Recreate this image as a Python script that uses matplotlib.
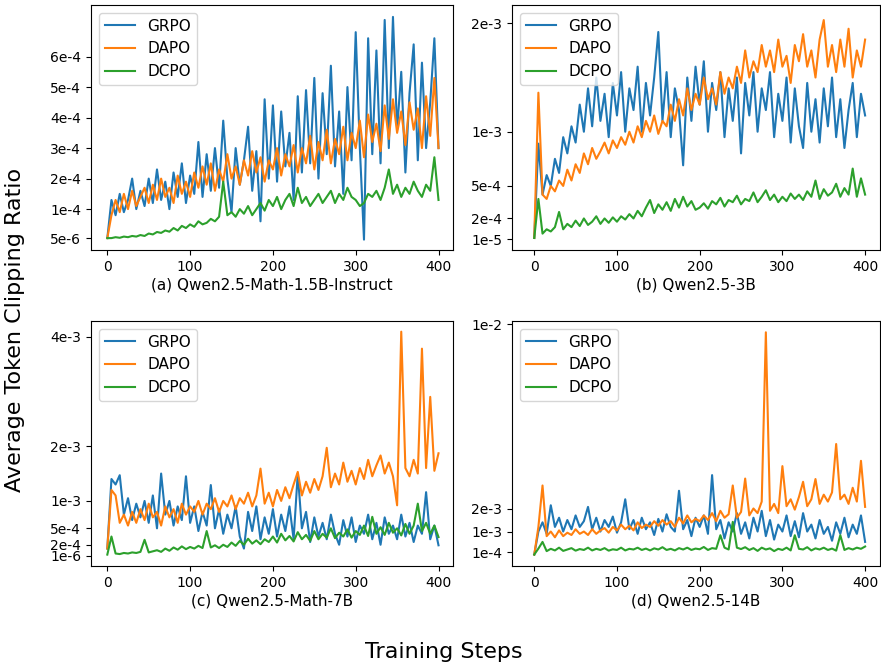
import numpy as np
import matplotlib
matplotlib.use("Agg")
import matplotlib.pyplot as plt

# training steps sampled every 5 steps
steps = np.arange(0, 401, 5)
methods = ["GRPO", "DAPO", "DCPO"]
colors = ["#1f77b4", "#ff7f0e", "#2ca02c"]

# (a) Qwen2.5-Math-1.5B-Instruct, values in units of 1e-4
a_grpo = [0.05, 1.3, 0.8, 1.5, 0.9, 1.3, 2.0, 1.0, 1.6, 1.1, 2.0, 1.2, 2.3, 1.3, 1.9, 1.0,
          2.2, 1.4, 2.5, 1.2, 2.1, 1.5, 3.2, 1.4, 2.8, 1.6, 3.0, 1.7, 3.9, 2.0, 0.9, 3.0,
          1.8, 2.6, 3.7, 1.6, 2.9, 0.6, 4.6, 2.0, 4.4, 1.9, 4.2, 2.4, 3.5, 1.3, 4.7, 2.2,
          4.9, 2.5, 5.3, 2.0, 4.8, 2.8, 5.7, 2.4, 4.2, 1.5, 5.0, 2.6, 6.8, 3.0, 0.0, 6.6,
          2.8, 6.2, 2.5, 7.2, 3.0, 7.3, 3.6, 5.5, 2.2, 4.8, 6.4, 2.6, 5.8, 3.0, 4.5, 6.6, 3.0]
a_dapo = [0.05, 0.8, 1.3, 0.9, 1.5, 1.0, 1.6, 1.1, 1.4, 1.7, 1.2, 1.8, 1.3, 2.0, 1.4, 1.7,
          1.2, 2.1, 1.5, 1.9, 1.4, 2.2, 1.7, 2.4, 1.8, 2.5, 1.6, 2.3, 1.9, 2.8, 2.0, 2.4,
          1.8, 2.6, 2.1, 2.9, 2.2, 2.7, 1.9, 2.6, 2.3, 3.0, 2.1, 2.8, 2.4, 3.1, 2.2, 3.0,
          2.5, 3.4, 2.3, 3.2, 2.6, 3.6, 2.5, 3.3, 2.8, 3.7, 2.6, 3.5, 3.0, 3.9, 2.7, 4.1,
          3.2, 3.8, 2.9, 4.4, 3.3, 4.6, 3.5, 4.2, 3.1, 4.5, 3.6, 4.3, 3.0, 4.7, 3.4, 5.3, 3.0]
a_dcpo = [0.05, 0.05, 0.08, 0.06, 0.1, 0.08, 0.12, 0.1, 0.15, 0.12, 0.2, 0.17, 0.25, 0.22,
          0.3, 0.26, 0.38, 0.3, 0.45, 0.38, 0.5, 0.42, 0.6, 0.5, 0.55, 0.68, 0.6, 0.75, 1.9,
          0.8, 0.9, 0.75, 1.0, 0.85, 1.1, 0.8, 1.0, 1.2, 0.95, 1.3, 1.1, 1.4, 1.0, 1.3, 1.5,
          1.1, 1.7, 1.2, 1.4, 1.1, 1.3, 1.5, 1.2, 1.4, 1.6, 1.2, 1.5, 1.3, 1.7, 1.4, 1.3,
          1.1, 1.2, 1.5, 1.4, 1.6, 1.3, 1.7, 2.3, 1.5, 1.8, 1.4, 1.7, 1.5, 1.9, 1.6, 1.4,
          1.8, 1.6, 2.7, 1.3]

# (b) Qwen2.5-3B, values in units of 1e-3
b_grpo = [0.02, 0.89, 0.42, 0.6, 0.5, 0.75, 0.62, 0.95, 0.8, 1.05, 0.9, 1.25, 1.0, 1.4,
          1.05, 1.5, 1.1, 1.35, 0.95, 1.45, 1.15, 1.55, 1.0, 1.4, 1.2, 1.6, 1.0, 1.45, 1.15,
          1.5, 1.92, 1.1, 1.55, 0.95, 1.4, 1.2, 0.69, 1.5, 1.1, 1.6, 1.25, 1.65, 1.0, 1.45,
          1.2, 1.55, 0.95, 1.4, 1.1, 1.5, 0.8, 1.45, 1.15, 1.55, 1.0, 1.4, 1.2, 1.55, 0.95,
          1.35, 1.1, 1.5, 0.9, 1.4, 1.05, 0.85, 1.45, 1.0, 1.3, 0.9, 1.4, 1.05, 1.5, 0.95,
          1.3, 0.85, 1.2, 1.45, 0.95, 1.35, 1.15]
b_dapo = [0.02, 1.36, 0.42, 0.38, 0.5, 0.45, 0.55, 0.5, 0.65, 0.55, 0.7, 0.62, 0.8, 0.7,
          0.85, 0.75, 0.82, 0.9, 0.8, 0.92, 0.85, 0.95, 0.88, 1.0, 0.9, 1.05, 0.95, 1.1, 1.0,
          1.15, 0.98, 1.1, 1.05, 1.25, 1.1, 1.3, 1.15, 1.4, 1.2, 1.35, 1.25, 1.5, 1.3, 1.4,
          1.25, 1.55, 1.35, 1.5, 1.4, 1.6, 1.45, 1.75, 1.5, 1.65, 1.55, 1.8, 1.6, 1.75, 1.55,
          1.85, 1.6, 1.7, 1.45, 1.8, 1.65, 1.9, 1.6, 1.75, 1.5, 1.85, 2.03, 1.6, 1.8, 1.55,
          1.85, 1.6, 1.95, 1.5, 1.75, 1.6, 1.85]
b_dcpo = [0.02, 0.38, 0.06, 0.1, 0.08, 0.12, 0.26, 0.1, 0.15, 0.12, 0.18, 0.13, 0.2, 0.14,
          0.17, 0.22, 0.15, 0.2, 0.16, 0.21, 0.17, 0.22, 0.19, 0.24, 0.2, 0.27, 0.22, 0.3,
          0.37, 0.25, 0.33, 0.28, 0.35, 0.27, 0.38, 0.3, 0.4, 0.31, 0.36, 0.28, 0.3, 0.34,
          0.29, 0.36, 0.33, 0.39, 0.31, 0.37, 0.35, 0.41, 0.33, 0.38, 0.36, 0.44, 0.35, 0.4,
          0.46, 0.37, 0.42, 0.35, 0.4, 0.36, 0.43, 0.38, 0.42, 0.37, 0.45, 0.4, 0.55, 0.38,
          0.47, 0.41, 0.44, 0.52, 0.4, 0.48, 0.42, 0.66, 0.4, 0.57, 0.42]

# (c) Qwen2.5-Math-7B, values in units of 1e-3
c_grpo = [0.13, 1.4, 1.3, 1.47, 0.75, 1.05, 0.65, 0.95, 0.7, 1.0, 0.6, 1.1, 0.5, 1.5, 0.75,
          1.0, 0.55, 0.9, 0.65, 1.45, 0.6, 0.9, 0.45, 0.8, 0.55, 1.29, 0.5, 0.85, 0.4, 0.75,
          0.5, 0.9, 0.35, 0.13, 0.8, 0.45, 0.9, 0.3, 0.7, 0.4, 0.85, 0.35, 0.75, 0.45, 0.9,
          0.3, 1.5, 0.5, 0.8, 0.25, 0.7, 0.35, 0.6, 0.3, 0.75, 0.4, 0.2, 0.65, 0.35, 0.7,
          0.25, 0.55, 0.4, 0.75, 0.3, 0.6, 0.2, 0.7, 0.4, 0.55, 0.3, 0.75, 0.35, 0.6, 0.25,
          0.55, 0.4, 1.16, 0.3, 0.55, 0.19]
c_dapo = [0.13, 1.2, 1.1, 0.6, 0.75, 0.55, 0.8, 0.6, 0.85, 0.65, 0.95, 0.7, 0.8, 0.55, 0.9,
          0.7, 0.85, 0.6, 0.95, 0.75, 0.9, 0.8, 1.0, 0.75, 0.95, 0.85, 1.05, 0.8, 1.0, 0.9,
          1.1, 0.85, 1.05, 0.95, 1.15, 0.9, 1.1, 1.59, 0.95, 1.15, 0.9, 1.2, 1.0, 1.25, 1.05,
          1.3, 1.53, 1.1, 1.35, 1.15, 1.4, 1.2, 1.45, 1.97, 1.25, 1.5, 1.3, 1.7, 1.35, 1.55,
          1.3, 1.6, 1.4, 1.75, 1.45, 1.65, 1.83, 1.5, 1.7, 1.45, 0.92, 4.09, 1.6, 1.45, 1.75,
          1.5, 3.78, 1.6, 2.9, 1.55, 1.87]
c_dcpo = [0.02, 0.35, 0.04, 0.03, 0.05, 0.04, 0.06, 0.05, 0.07, 0.29, 0.06, 0.08, 0.1, 0.07,
          0.13, 0.09, 0.15, 0.11, 0.17, 0.12, 0.16, 0.13, 0.18, 0.14, 0.45, 0.15, 0.19, 0.14,
          0.2, 0.16, 0.24, 0.18, 0.27, 0.2, 0.31, 0.22, 0.28, 0.21, 0.3, 0.25, 0.35, 0.24,
          0.4, 0.28, 0.36, 0.26, 0.43, 0.3, 0.38, 0.27, 0.45, 0.3, 0.4, 0.33, 0.5, 0.32, 0.42,
          0.35, 0.48, 0.33, 0.45, 0.38, 0.55, 0.36, 0.71, 0.4, 0.52, 0.38, 0.6, 0.42, 0.5,
          0.37, 0.58, 0.4, 0.55, 0.95, 0.45, 0.6, 0.4, 0.55, 0.34]

# (d) Qwen2.5-14B, values in units of 1e-3
d_grpo = [0.0, 1.0, 1.4, 0.9, 2.14, 1.2, 1.6, 1.0, 1.5, 1.1, 1.7, 1.2, 1.45, 2.07, 1.1, 1.6,
          1.0, 1.5, 1.2, 1.65, 0.95, 1.4, 2.4, 1.1, 1.5, 0.9, 1.6, 1.1, 1.4, 0.85, 1.55, 1.0,
          1.75, 1.2, 1.0, 2.77, 1.1, 1.5, 0.8, 1.6, 1.2, 1.7, 0.9, 3.45, 1.1, 1.5, 0.7, 1.4,
          1.0, 1.8, 0.9, 1.4, 0.7, 1.6, 1.0, 1.9, 0.8, 1.5, 0.65, 1.3, 1.0, 1.7, 0.8, 1.45,
          0.75, 1.8, 1.0, 1.3, 0.7, 1.5, 0.9, 1.2, 0.6, 1.4, 0.9, 1.6, 0.75, 1.3, 0.9, 1.7, 0.55]
d_dapo = [0.0, 1.2, 3.0, 0.8, 1.0, 0.75, 1.05, 0.8, 0.95, 0.85, 1.1, 0.9, 1.0, 0.85, 1.1, 0.9,
          1.05, 1.15, 0.95, 1.2, 1.05, 1.3, 1.1, 1.25, 1.05, 1.4, 1.15, 1.3, 1.2, 1.45, 1.25,
          1.5, 1.3, 1.45, 1.2, 1.6, 1.35, 1.7, 1.4, 1.55, 1.45, 1.7, 1.5, 1.8, 1.45, 1.9, 1.6,
          1.75, 3.0, 1.6, 1.85, 3.3, 1.7, 2.0, 1.8, 2.3, 9.65, 1.9, 2.2, 1.8, 3.84, 2.1, 2.4,
          1.95, 2.5, 3.16, 2.1, 2.4, 3.28, 2.2, 2.6, 2.3, 2.7, 4.8, 2.4, 2.6, 2.2, 2.9, 2.3,
          4.07, 2.07]
d_dcpo = [0.0, 0.26, 0.55, 0.15, 0.25, 0.18, 0.3, 0.16, 0.22, 0.28, 0.17, 0.24, 0.2, 0.3,
          0.18, 0.25, 0.2, 0.28, 0.17, 0.23, 0.2, 0.3, 0.18, 0.25, 0.22, 0.3, 0.2, 0.26, 0.18,
          0.27, 0.22, 0.32, 0.2, 0.25, 0.18, 0.28, 0.22, 0.3, 0.2, 0.26, 0.23, 0.33, 0.2, 0.28,
          0.25, 0.84, 0.3, 0.22, 1.42, 0.3, 0.24, 0.32, 0.2, 0.28, 0.16, 0.3, 0.22, 0.27, 0.15,
          0.25, 0.2, 0.3, 0.18, 0.84, 0.25, 0.22, 0.32, 0.18, 0.27, 0.22, 0.3, 0.2, 0.26, 0.17,
          0.84, 0.2, 0.28, 0.22, 0.3, 0.25, 0.35]

captions = ["(a) Qwen2.5-Math-1.5B-Instruct", "(b) Qwen2.5-3B",
            "(c) Qwen2.5-Math-7B", "(d) Qwen2.5-14B"]
scales = [1e-4, 1e-3, 1e-3, 1e-3]
series = [[a_grpo, a_dapo, a_dcpo], [b_grpo, b_dapo, b_dcpo],
          [c_grpo, c_dapo, c_dcpo], [d_grpo, d_dapo, d_dcpo]]
ytick_labels = [["5e-6", "1e-4", "2e-4", "3e-4", "4e-4", "5e-4", "6e-4"],
                ["1e-5", "2e-4", "5e-4", "1e-3", "2e-3"],
                ["1e-6", "2e-4", "5e-4", "1e-3", "2e-3", "4e-3"],
                ["1e-4", "1e-3", "2e-3", "1e-2"]]

# layout in pixels (left, top, right, bottom) and axis limits
W, H = 881, 664
boxes = [(91, 5, 453, 250), (512, 5, 880, 250), (91, 321, 453, 566), (512, 321, 880, 566)]
xlims = [(-19.7, 417.5), (-26.9, 418), (-19.7, 417.5), (-26.9, 418)]
ylims = [(-0.34e-4, 7.69e-4), (-0.091e-3, 2.169e-3), (-0.188e-3, 4.285e-3), (-0.496e-3, 10.14e-3)]

fig = plt.figure(figsize=(W / 100, H / 100), dpi=100)

for i in range(4):
    l, t, r, b = boxes[i]
    ax = fig.add_axes([l / W, 1 - b / H, (r - l) / W, (b - t) / H])
    for name, col, vals in zip(methods, colors, series[i]):
        ax.plot(steps, np.array(vals) * scales[i], color=col, label=name, linewidth=1.5)
    ax.set_xlim(*xlims[i])
    ax.set_ylim(*ylims[i])
    ax.set_xticks([0, 100, 200, 300, 400])
    ax.set_yticks([float(s) for s in ytick_labels[i]])
    ax.set_yticklabels(ytick_labels[i])
    ax.tick_params(labelsize=10)
    ax.set_xlabel(captions[i], fontsize=11, labelpad=3)
    ax.legend(loc="upper left", fontsize=11)

fig.text(15 / W, 1 - 330 / H, "Average Token Clipping Ratio", rotation=90,
         ha="center", va="center", fontsize=16)
fig.text(444 / W, 1 - 652 / H, "Training Steps", ha="center", va="center", fontsize=16)

fig.savefig("out.png", dpi=100)
